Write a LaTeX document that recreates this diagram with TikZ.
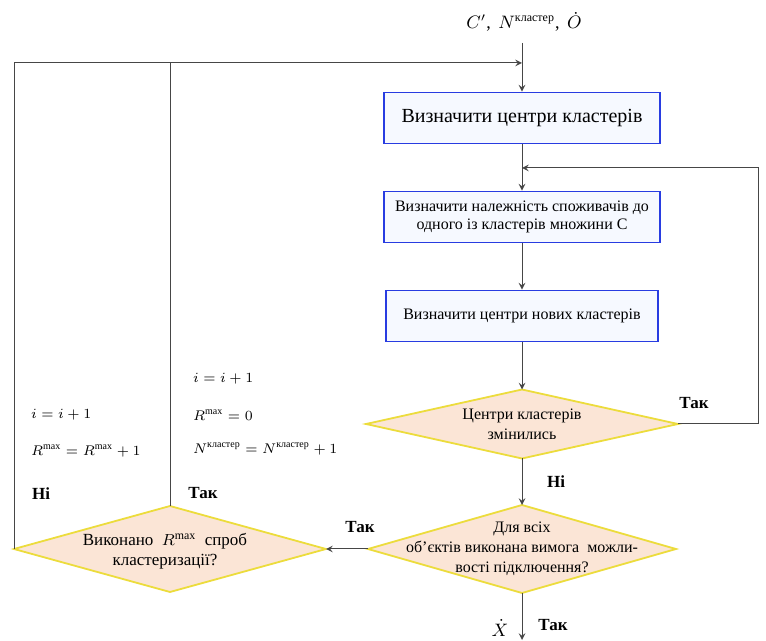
\documentclass[tikz,border=0pt]{standalone}
\usepackage{fontspec,amsmath}
\setmainfont{Liberation Serif}
\usetikzlibrary{shapes.geometric}
\definecolor{boxblue}{RGB}{40,60,225}
\definecolor{boxfill}{RGB}{246,249,255}
\definecolor{decyellow}{RGB}{236,220,60}
\definecolor{decfill}{RGB}{251,229,214}
\definecolor{linegray}{RGB}{70,70,70}
\tikzset{
  proc/.style={draw=boxblue,fill=boxfill,line width=.9pt,minimum width=138pt,minimum height=25.5pt,align=center,font=\fontsize{8}{9}\selectfont},
  dec/.style={diamond,draw=decyellow,fill=decfill,line width=.9pt,inner sep=0pt,outer sep=0pt},
  dectext/.style={align=center,font=\fontsize{8}{10}\selectfont},
  flow/.style={draw=linegray,line width=.5pt},
  lab/.style={font=\fontsize{8.5}{10}\selectfont\bfseries},
  note/.style={anchor=west,font=\fontsize{7}{8}\selectfont}
}

\begin{document}
\begin{tikzpicture}[x=.5pt,y=-.5pt,>=stealth]
\useasboundingbox (0,0) rectangle (766,641);
% process boxes
\node[proc,font=\fontsize{10}{12}\selectfont] (p1) at (522,118) {Визначити центри кластерів};
\node[proc] (p2) at (522,217) {Визначити належність споживачів до\\одного із кластерів множини C};
\node[proc,minimum width=136pt] (p3) at (522,316) {Визначити центри нових кластерів};
% decisions
\node[dec,minimum width=156pt,minimum height=34.5pt] (d1) at (522,424) {};
\node[dectext] at (d1) {Центри кластерів\\змінились};
\node[dec,minimum width=154pt,minimum height=44pt] (d2) at (522,549) {};
\node[dectext] at (d2) {Для всіх\\об’єктів виконана вимога \ можли-\\вості підключення?};
\node[dec,minimum width=156pt,minimum height=43pt] (d3) at (170,549) {};
\node[dectext,font=\fontsize{8.5}{10}\selectfont] at (165,551) {Виконано \ $R^{\max}$ \ спроб\\кластеризації?};
% in / out
\node[font=\fontsize{9}{10}\selectfont] (in) at (524,22) {$C'$,\, $N^{\text{кластер}}$,\, $\dot{O}$};
\coordinate (top) at (522,43);
\coordinate (merge) at (522,63);
\coordinate (loop) at (522,168);
\coordinate (out) at (522,640);
\draw[flow,->] (top)--(p1);
\draw[flow,->] (p1)--(p2);
\draw[flow,->] (p2)--(p3);
\draw[flow,->] (p3)--(d1);
\draw[flow,->] (d1)--(d2);
\draw[flow,->] (d1.east)--++(80,0)|-(loop);
\draw[flow,->] (d2.west)--(d3.east);
\draw[flow,->] (d2)--(out);
\draw[flow,->] (d3.west)|-(merge);
\draw[flow] (d3.north)--(d3.north|-merge);
% labels
\node[lab] (y1) at (694,403) {Так};
\node[lab] (n1) at (556,482) {Ні};
\node[lab] (y2) at (360,527) {Так};
\node[lab] (y3) at (553,625) {Так};
\node[font=\fontsize{9}{10}\selectfont] (x) at (500,628) {$\dot{X}$};
\node[lab] (n2) at (41,494) {Ні};
\node[lab] (y4) at (203,493) {Так};
\node[note] (a1) at (24,415) {$i=i+1$};
\node[note] (a2) at (24,451) {$R^{\max}=R^{\max}+1$};
\node[note] (b1) at (186,379) {$i=i+1$};
\node[note] (b2) at (186,415) {$R^{\max}=0$};
\node[note] (b3) at (186,449) {$N^{\text{кластер}}=N^{\text{кластер}}+1$};
\end{tikzpicture}
\end{document}
